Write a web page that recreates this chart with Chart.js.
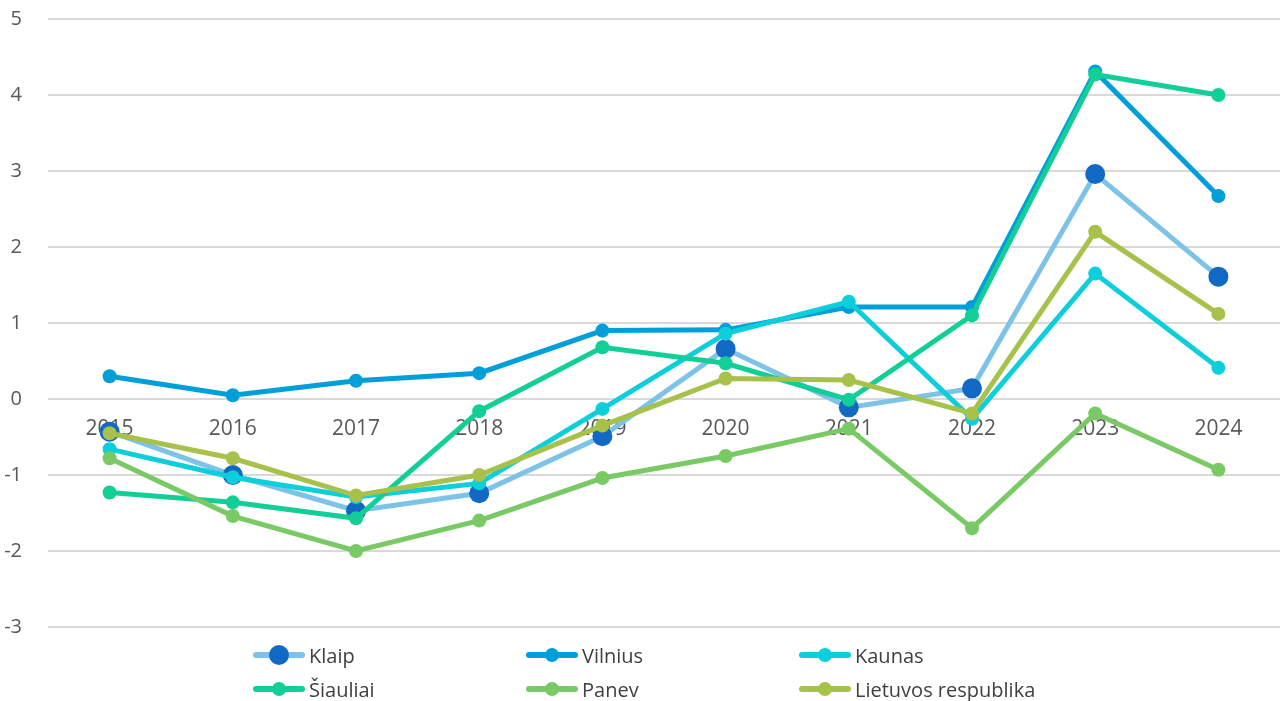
<!DOCTYPE html>
<html>
<head>
<meta charset="utf-8">
<script src="https://cdn.jsdelivr.net/npm/chart.js@4/dist/chart.umd.min.js"></script>
<style>
  html, body { margin: 0; padding: 0; background: #fff; }
  #wrap { position: relative; width: 1280px; height: 701px; overflow: hidden; }
  /* canvas is a little larger and shifted up: the centred x axis keeps space at the top and right */
  #myChart { position: absolute; left: 0; top: -19px; }
  #legend {
    position: absolute; left: 253px; top: 643px;
    display: grid; grid-template-columns: 273px 273px 273px; row-gap: 10px;
    font-family: "Open Sans", sans-serif; font-size: 20px; color: #404040;
  }
  .item { display: flex; align-items: center; height: 24px; }
  .mark { position: relative; width: 52px; height: 24px; margin-right: 4px; }
  .mark .ln { position: absolute; left: 0; right: 0; top: 9px; height: 6px; border-radius: 3px; }
  .mark .dot { position: absolute; border-radius: 50%; }
</style>
</head>
<body>
<div id="wrap">
  <canvas id="myChart" width="1290" height="720"></canvas>
  <div id="legend"></div>
</div>
<script>
// data
const years = ["2015", "2016", "2017", "2018", "2019", "2020", "2021", "2022", "2023", "2024"];
const klaip = [-0.43, -1.0, -1.47, -1.24, -0.49, 0.66, -0.11, 0.14, 2.96, 1.61];
const vilnius = [0.30, 0.05, 0.24, 0.34, 0.90, 0.91, 1.21, 1.21, 4.31, 2.67];
const kaunas = [-0.66, -1.03, -1.29, -1.11, -0.13, 0.86, 1.28, -0.26, 1.65, 0.41];
const siauliai = [-1.23, -1.36, -1.57, -0.16, 0.68, 0.47, -0.01, 1.10, 4.27, 4.0];
const panev = [-0.78, -1.54, -2.0, -1.60, -1.04, -0.75, -0.39, -1.70, -0.19, -0.93];
const lietuva = [-0.45, -0.78, -1.27, -1.0, -0.35, 0.27, 0.25, -0.19, 2.20, 1.12];
const names = ["Klaip", "Vilnius", "Kaunas", "Šiauliai", "Panev", "Lietuvos respublika"];
const yTicks = [-3, -2, -1, 0, 1, 2, 3, 4, 5];

const lineColors = ["#7dc3e8", "#009fd9", "#0ccfdb", "#12cf98", "#79c964", "#a7c14a"];
const dotColors = ["#1169c3", "#009fd9", "#0ccfdb", "#12cf98", "#79c964", "#a7c14a"];
const dotSizes = [10, 7, 7, 7, 7, 7];

const allSeries = [klaip, vilnius, kaunas, siauliai, panev, lietuva];

const datasets = allSeries.map((vals, i) => ({
  label: names[i],
  data: vals,
  borderColor: lineColors[i],
  backgroundColor: dotColors[i],
  pointBackgroundColor: dotColors[i],
  pointBorderColor: dotColors[i],
  pointRadius: dotSizes[i],
  pointBorderWidth: 0,
  borderWidth: 5,
  tension: 0,
  // later series sit on top
  order: allSeries.length - i,
}));

const ctx = document.getElementById("myChart");
const myChart = new Chart(ctx, {
  type: "line",
  data: { labels: years, datasets: datasets },
  options: {
    responsive: false,
    animation: false,
    events: [],
    layout: { padding: { top: 0, bottom: 74, right: 0, left: 0 } },
    plugins: { legend: { display: false }, tooltip: { enabled: false } },
    scales: {
      x: {
        position: { y: 0 },
        offset: true,
        grid: { display: false, drawTicks: false, offset: true },
        border: { display: false },
        ticks: {
          color: "#595959",
          font: { family: "Open Sans", size: 21 },
          padding: 17,
          maxRotation: 0,
        },
      },
      y: {
        min: yTicks[0],
        max: yTicks[yTicks.length - 1],
        afterBuildTicks: (axis) => {
          axis.ticks = yTicks.map((v) => ({ value: v }));
        },
        afterFit: (axis) => {
          axis.width = 48;
        },
        grid: { color: "#d9d9d9", lineWidth: 2, drawTicks: false },
        border: { display: false },
        ticks: {
          color: "#595959",
          font: { family: "Open Sans", size: 20 },
          padding: 26,
        },
      },
    },
  },
});

// legend in three columns
const legendBox = document.getElementById("legend");
datasets.forEach((ds, i) => {
  const r = dotSizes[i];
  const item = document.createElement("div");
  item.className = "item";
  item.innerHTML =
    '<span class="mark"><span class="ln" style="background:' + lineColors[i] + '"></span>' +
    '<span class="dot" style="background:' + dotColors[i] + ";width:" + 2 * r + "px;height:" + 2 * r +
    "px;left:" + (26 - r) + "px;top:" + (12 - r) + 'px"></span></span>' +
    "<span>" + ds.label + "</span>";
  legendBox.appendChild(item);
});
</script>
</body>
</html>
